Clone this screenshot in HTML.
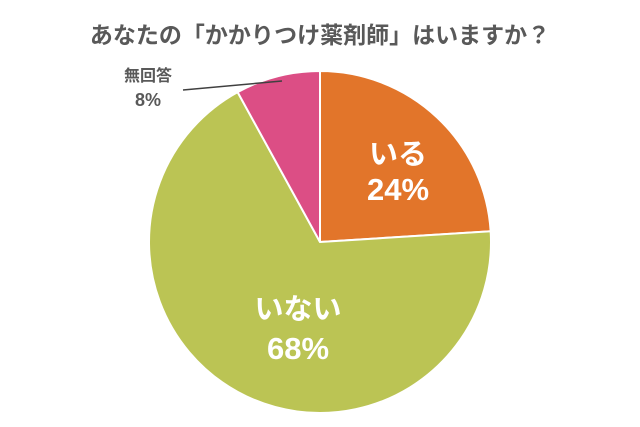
<!DOCTYPE html>
<html><head><meta charset="utf-8"><style>
body{margin:0;background:#fff;}
svg{display:block;font-family:"Liberation Sans","Noto Sans CJK JP",sans-serif;font-weight:bold;}
</style></head><body>
<svg width="640" height="427" viewBox="0 0 640 427">
<text x="320" y="43" text-anchor="middle" font-size="23" fill="#595959">あなたの「かかりつけ薬剤師」はいますか？</text>
<g id="slices"></g>
<line x1="183" y1="90" x2="282" y2="81" stroke="#404040" stroke-width="1.5"/>
<text x="148" y="81" text-anchor="middle" font-size="16" fill="#595959">無回答</text>
<text x="148" y="106" text-anchor="middle" font-size="18" fill="#595959">8%</text>
<text x="398" y="164" text-anchor="middle" font-size="29" fill="#fff">いる</text>
<text x="398" y="200" text-anchor="middle" font-size="31" fill="#fff">24%</text>
<text x="298" y="319" text-anchor="middle" font-size="29" fill="#fff">いない</text>
<text x="298" y="359" text-anchor="middle" font-size="31" fill="#fff">68%</text>
</svg>
<script>
const categories=["いる","いない","無回答"];
const values=[24,68,8];
const colors=["#E2752A","#BBC454","#DC4E85"];
const cx=320,cy=242,r=171;
const g=document.getElementById('slices');
const total=values.reduce((a,b)=>a+b,0);
let a0=0;
values.forEach((v,i)=>{
 const a1=a0+v/total*2*Math.PI;
 const p=t=>[cx+r*Math.sin(t),cy-r*Math.cos(t)];
 const [x0,y0]=p(a0),[x1,y1]=p(a1);
 const large=(a1-a0)>Math.PI?1:0;
 const path=document.createElementNS('http://www.w3.org/2000/svg','path');
 path.setAttribute('d',`M${cx},${cy}L${x0},${y0}A${r},${r} 0 ${large} 1 ${x1},${y1}Z`);
 path.setAttribute('fill',colors[i]);
 path.setAttribute('stroke','#fff');
 path.setAttribute('stroke-width','2');
 
 
 g.appendChild(path);
 a0=a1;
});
</script>
</body></html>
